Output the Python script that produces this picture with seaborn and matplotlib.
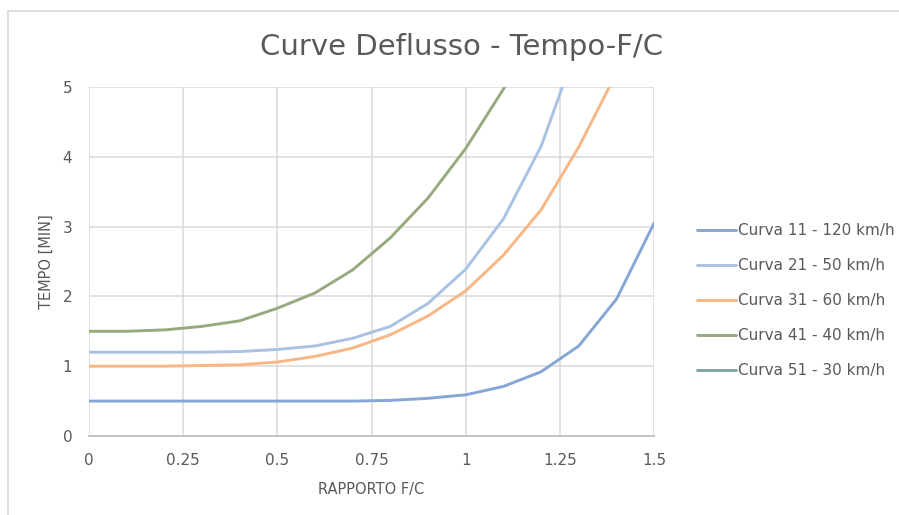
import numpy as np
import pandas as pd
import matplotlib
matplotlib.use('Agg')
import matplotlib.pyplot as plt
import seaborn as sns
from matplotlib.patches import Rectangle

# F/C ratio sampled every 0.1
rapporto = [0.0, 0.1, 0.2, 0.3, 0.4, 0.5, 0.6, 0.7, 0.8, 0.9, 1.0, 1.1, 1.2, 1.3, 1.4, 1.5]

curva_11 = [0.50, 0.50, 0.50, 0.50, 0.50, 0.50, 0.50, 0.50, 0.51, 0.54, 0.59, 0.71, 0.92, 1.29, 1.96, 3.05]
curva_21 = [1.20, 1.20, 1.20, 1.20, 1.21, 1.24, 1.29, 1.40, 1.57, 1.90, 2.39, 3.11, 4.15, 5.65, 7.6, 10.0]
curva_31 = [1.00, 1.00, 1.00, 1.01, 1.02, 1.06, 1.14, 1.26, 1.45, 1.72, 2.08, 2.59, 3.24, 4.14, 5.20, 6.6]
curva_41 = [1.50, 1.50, 1.52, 1.57, 1.65, 1.83, 2.05, 2.38, 2.84, 3.41, 4.12, 4.97, 6.00, 7.3, 8.9, 10.8]
curva_51 = [np.nan] * len(rapporto)  # present in legend only

nomi = ['Curva 11 - 120 km/h', 'Curva 21 - 50 km/h', 'Curva 31 - 60 km/h',
        'Curva 41 - 40 km/h', 'Curva 51 - 30 km/h']
colori = ['#86A6D6', '#A9C1E3', '#F8B684', '#97AA7D', '#7FA4AC']

serie = [curva_11, curva_21, curva_31, curva_41, curva_51]
df = pd.concat([pd.DataFrame({'F/C': rapporto, 'Tempo': s, 'Curva': n})
                for s, n in zip(serie, nomi)], ignore_index=True)

sns.set_theme(style='white')
plt.rcParams['font.family'] = ['DejaVu Sans']
grigio = '#595959'

fig = plt.figure(figsize=(8.99, 5.15), dpi=100)
ax = fig.add_axes([0.099, 0.1534, 0.6286, 0.6777])

# chart area border (cropped at right and bottom)
fig.patches.append(Rectangle((8 / 899, -0.1), 1.2, (515 - 11) / 515 + 0.1,
                             transform=fig.transFigure, fill=False,
                             edgecolor='#D9D9D9', linewidth=1.2))

sns.lineplot(data=df, x='F/C', y='Tempo', hue='Curva', hue_order=nomi,
             palette=colori, linewidth=2.1, ax=ax, legend=False)

ax.set_xlim(0, 1.5)
ax.set_ylim(0, 5)
ax.set_xticks([0, 0.25, 0.5, 0.75, 1, 1.25, 1.5])
ax.set_xticklabels(['0', '0.25', '0.5', '0.75', '1', '1.25', '1.5'])
ax.set_yticks([0, 1, 2, 3, 4, 5])
ax.grid(True, color='#D9D9D9', linewidth=1.1)
ax.set_axisbelow(True)
for s in ['top', 'right', 'left']:
    ax.spines[s].set_visible(False)
ax.spines['bottom'].set_color('#BFBFBF')
ax.spines['bottom'].set_linewidth(1.3)
ax.tick_params(axis='both', length=0, labelsize=11, colors=grigio)
ax.tick_params(axis='x', pad=12)
ax.tick_params(axis='y', pad=12)

ax.set_xlabel('RAPPORTO F/C', fontsize=10.5, color=grigio, labelpad=10)
ax.set_ylabel('TEMPO [MIN]', fontsize=10.5, color=grigio, labelpad=6)
fig.suptitle('Curve Deflusso - Tempo-F/C', x=0.513, y=0.935, fontsize=21,
             color=grigio)

handles = [plt.Line2D([], [], color=c, linewidth=2.1) for c in colori]
leg = fig.legend(handles, nomi, loc='upper left', bbox_to_anchor=(0.768, 0.579),
                 frameon=False, fontsize=11, handlelength=2.6,
                 handletextpad=0.1, labelspacing=1.31, borderaxespad=0)
for t in leg.get_texts():
    t.set_color(grigio)

fig.savefig('out.png', dpi=100)
